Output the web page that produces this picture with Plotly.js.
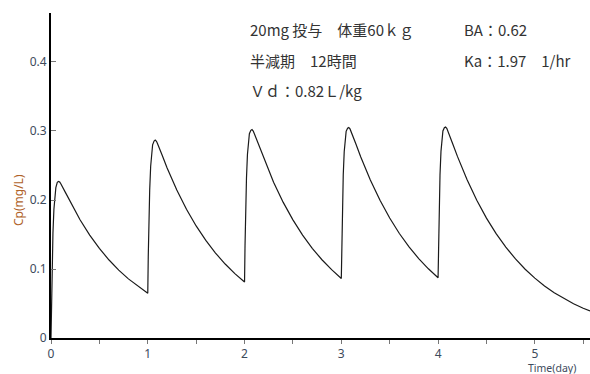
<!DOCTYPE html>
<html>
<head>
<meta charset="utf-8">
<script src="https://cdn.plot.ly/plotly-3.0.1.min.js"></script>
<style>html,body{margin:0;padding:0;background:#fff;}#chart{width:590px;height:374px;}</style>
</head>
<body>
<div id="chart"></div>
<script>
// Dose times (day)
const doseDays = [0, 1, 2, 3, 4];
// Time offsets after each dose (day)
const tau = [0, 0.005, 0.01, 0.02, 0.03, 0.05, 0.065, 0.077, 0.09, 0.1, 0.15, 0.2, 0.3, 0.4, 0.5, 0.6, 0.7, 0.8, 0.9, 1.0];
// Cp (mg/L) after each dose
const cpDose1 = [0, 0.0529, 0.0942, 0.1517, 0.1862, 0.2180, 0.2255, 0.2270, 0.2260, 0.2240, 0.2107, 0.1968, 0.1713, 0.1491, 0.1298, 0.1130, 0.0984, 0.0857, 0.0746, 0.0649];
const cpDose2 = [0.0649, 0.1173, 0.1583, 0.2148, 0.2490, 0.2800, 0.2855, 0.2868, 0.2850, 0.2820, 0.2645, 0.2465, 0.2145, 0.1866, 0.1624, 0.1414, 0.1231, 0.1072, 0.0933, 0.0812];
const cpDose3 = [0.0812, 0.1335, 0.1743, 0.2310, 0.2660, 0.2960, 0.3010, 0.3020, 0.3000, 0.2965, 0.2780, 0.2595, 0.2258, 0.1965, 0.1712, 0.1491, 0.1300, 0.1134, 0.0990, 0.0862];
const cpDose4 = [0.0862, 0.1385, 0.1793, 0.2360, 0.2700, 0.2995, 0.3040, 0.3050, 0.3030, 0.2998, 0.2815, 0.2628, 0.2290, 0.1995, 0.1738, 0.1514, 0.1320, 0.1151, 0.1003, 0.0874];
const cpDose5 = [0.0874, 0.1395, 0.1803, 0.2370, 0.2705, 0.3000, 0.3048, 0.3058, 0.3038, 0.3005, 0.2820, 0.2632, 0.2292, 0.1995, 0.1737, 0.1512, 0.1317, 0.1146, 0.0997, 0.0868];
// Tail after the last dose
const tauTail = [1.1, 1.2, 1.3, 1.4, 1.5, 1.57];
const cpTail = [0.0755, 0.0657, 0.0571, 0.0497, 0.0432, 0.0392];

const xTicks = [0, 1, 2, 3, 4, 5];
const yTicks = [0, 0.1, 0.2, 0.3, 0.4];

const segments = [cpDose1, cpDose2, cpDose3, cpDose4, cpDose5];
const xs = [], ys = [];
segments.forEach((seg, i) => {
  seg.forEach((v, j) => {
    if (i > 0 && j === 0) return;
    xs.push(doseDays[i] + tau[j]);
    ys.push(v);
  });
});
tauTail.forEach((t, j) => { xs.push(doseDays[4] + t); ys.push(cpTail[j]); });

const trace = {
  x: xs, y: ys, type: 'scatter', mode: 'lines',
  line: {color: '#1a1a1a', width: 1.2},
  hoverinfo: 'skip'
};

const txtFont = {family: 'Noto Sans CJK JP, Noto Sans, sans-serif', size: 15, color: '#333333'};
const ann = (text, x, y) => ({text, x, y, xref: 'paper', yref: 'paper', xanchor: 'left', yanchor: 'middle', showarrow: false, font: txtFont});

const layout = {
  width: 590, height: 374,
  margin: {l: 51, r: 0, t: 13, b: 36},
  paper_bgcolor: '#ffffff', plot_bgcolor: '#ffffff',
  showlegend: false,
  xaxis: {
    range: [0, 5.57], showgrid: false, zeroline: false,
    showline: true, linecolor: '#000000', linewidth: 2,
    tickvals: xTicks, ticktext: xTicks.map(String),
    ticks: 'outside', ticklen: 4, tickcolor: '#777777', tickwidth: 1,
    minor: {dtick: 0.5, ticks: 'outside', ticklen: 4, tickcolor: '#777777', tickwidth: 1},
    tickfont: {family: 'Noto Sans, sans-serif', size: 12, color: '#3d4a5c'}
  },
  yaxis: {
    range: [0, 0.471], showgrid: false, zeroline: false,
    showline: true, linecolor: '#000000', linewidth: 2,
    tickvals: yTicks, ticktext: yTicks.map(String),
    ticks: 'inside', ticklen: 5, tickcolor: '#777777', tickwidth: 1,
    tickfont: {family: 'Noto Sans, sans-serif', size: 12, color: '#3d4a5c'}
  },
  annotations: [
    ann('20mg 投与　体重60ｋｇ', 0.3655, 0.948),
    ann('BA：0.62', 0.7625, 0.948),
    ann('半減期　12時間', 0.3655, 0.855),
    ann('Ka：1.97　1/hr', 0.7625, 0.855),
    ann('Ｖｄ：0.82Ｌ/kg', 0.3655, 0.763),
    {text: 'Cp(mg/L)', x: -0.0612, y: 0.4246, xref: 'paper', yref: 'paper', textangle: -90,
     xanchor: 'center', yanchor: 'middle', showarrow: false,
     font: {family: 'Noto Sans, sans-serif', size: 12, color: '#b0632a'}},
    {text: 'Time(day)', x: 0.93, y: -0.091, xref: 'paper', yref: 'paper',
     xanchor: 'center', yanchor: 'middle', showarrow: false,
     font: {family: 'Noto Sans, sans-serif', size: 10.5, color: '#3d4a5c'}}
  ]
};

Plotly.newPlot('chart', [trace], layout, {displayModeBar: false, staticPlot: true});
</script>
</body>
</html>
